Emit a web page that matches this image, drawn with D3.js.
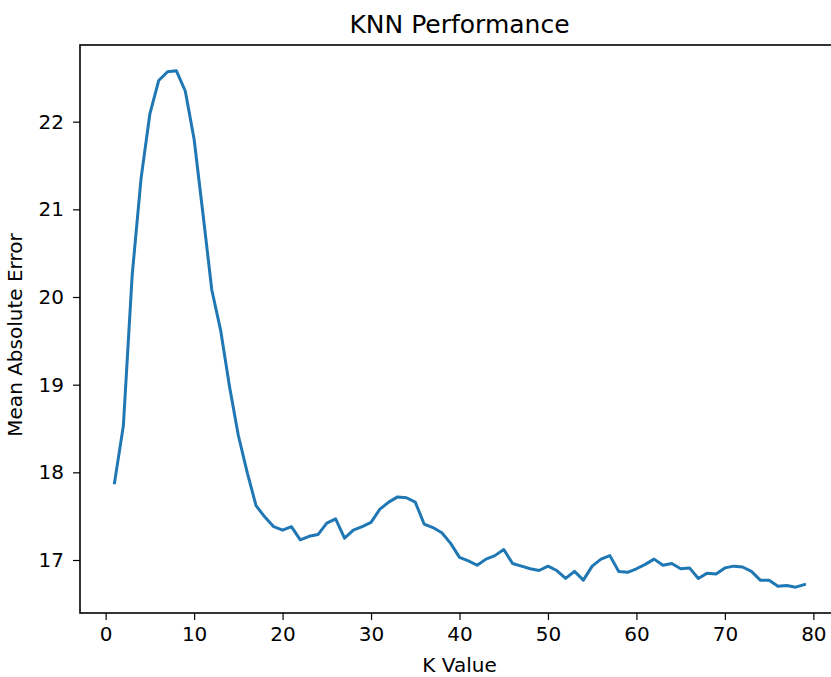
<!DOCTYPE html>
<html>
<head>
<meta charset="utf-8">
<script src="https://cdn.jsdelivr.net/npm/d3@7"></script>
<style>
    body { margin: 0; background: #fff; }
    svg { display: block; }
    text { font-family: "DejaVu Sans", sans-serif; fill: #000; }
</style>
</head>
<body>
<svg id="chart" width="831" height="677"></svg>
<script>
// K values and mean absolute error for each one
const kValues = d3.range(1, 80);
const maeValues = [
    17.88, 18.53, 20.25, 21.35, 22.09, 22.47, 22.57, 22.58, 22.35, 21.80,
    20.95, 20.08, 19.62, 18.98, 18.42, 18.00, 17.62, 17.49, 17.38, 17.34,
    17.38, 17.23, 17.27, 17.29, 17.42, 17.47, 17.25, 17.34, 17.38, 17.43,
    17.58, 17.66, 17.72, 17.71, 17.66, 17.41, 17.37, 17.31, 17.19, 17.03,
    16.99, 16.94, 17.01, 17.05, 17.12, 16.96, 16.93, 16.90, 16.88, 16.93,
    16.88, 16.79, 16.87, 16.77, 16.93, 17.01, 17.05, 16.87, 16.86, 16.90,
    16.95, 17.01, 16.94, 16.96, 16.90, 16.91, 16.79, 16.85, 16.84, 16.91,
    16.93, 16.92, 16.87, 16.77, 16.77, 16.70, 16.71, 16.69, 16.72
];
const xTicks = [0, 10, 20, 30, 40, 50, 60, 70, 80];
const yTicks = [17, 18, 19, 20, 21, 22];

var svg = d3.select("#chart");

// plot box (right spine falls just outside the picture, as in the original)
var plotLeft = 80, plotRight = 839, plotTop = 45, plotBottom = 613;

// matplotlib style 5% margins
function padded(ext) {
    let pad = (ext[1] - ext[0]) * 0.05;
    return [ext[0] - pad, ext[1] + pad];
}

var x = d3.scaleLinear()
    .domain(padded(d3.extent(kValues)))
    .range([plotLeft, plotRight]);

var y = d3.scaleLinear()
    .domain(padded(d3.extent(maeValues)))
    .range([plotBottom, plotTop]);

var xAxis = svg.append("g")
    .attr("transform", `translate(0, ${plotBottom})`)
    .call(d3.axisBottom(x).tickValues(xTicks).tickFormat(d3.format("d")).tickSize(7).tickPadding(7).tickSizeOuter(0));

var yAxis = svg.append("g")
    .attr("transform", `translate(${plotLeft}, 0)`)
    .call(d3.axisLeft(y).tickValues(yTicks).tickFormat(d3.format("d")).tickSize(7).tickPadding(9).tickSizeOuter(0));

[xAxis, yAxis].forEach(a => {
    a.select(".domain").remove();
    a.selectAll(".tick line").attr("stroke", "#000").attr("stroke-width", 1.2);
    a.selectAll(".tick text")
        .style("font-family", "DejaVu Sans")
        .style("font-size", "20px")
        .attr("fill", "#000");
});

// spines
svg.append("rect")
    .attr("x", plotLeft)
    .attr("y", plotTop)
    .attr("width", plotRight - plotLeft)
    .attr("height", plotBottom - plotTop)
    .attr("fill", "none")
    .attr("stroke", "#000")
    .attr("stroke-width", 1.6);

var line = d3.line()
    .x((d, i) => x(kValues[i]))
    .y(d => y(d));

svg.append("path")
    .datum(maeValues)
    .attr("d", line)
    .attr("fill", "none")
    .attr("stroke", "#1f77b4")
    .attr("stroke-width", 3)
    .attr("stroke-linejoin", "round")
    .attr("stroke-linecap", "square");

var midX = (plotLeft + plotRight) / 2;

svg.append("text")
    .attr("x", midX)
    .attr("y", 33)
    .attr("text-anchor", "middle")
    .style("font-size", "25px")
    .text("KNN Performance");

svg.append("text")
    .attr("x", midX)
    .attr("y", 672)
    .attr("text-anchor", "middle")
    .style("font-size", "20px")
    .text("K Value");

svg.append("text")
    .attr("transform", `translate(22, ${(plotTop + plotBottom) / 2 + 6})rotate(-90)`)
    .attr("text-anchor", "middle")
    .style("font-size", "20px")
    .text("Mean Absolute Error");
</script>
</body>
</html>
